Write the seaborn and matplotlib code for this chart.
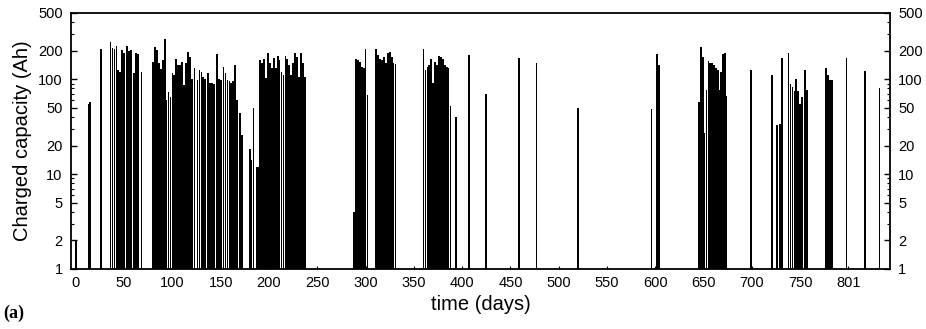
import matplotlib
matplotlib.use("Agg")
import matplotlib.pyplot as plt
import matplotlib.ticker as mticker
import seaborn as sns
import pandas as pd

# ---- data ----
days = [
    0, 13, 15, 26, 36, 38, 40, 42, 44, 46, 48, 50, 53, 55, 57, 60, 62, 64, 68,
    80, 82, 84, 86, 88, 90, 92, 94, 96, 98, 100, 102, 104, 106, 108, 110, 112,
    114, 116, 118, 120, 123, 126, 128, 130, 132, 134, 137, 139, 141, 143, 146,
    148, 150, 153, 155, 157, 159, 161, 163, 165, 167, 170, 172,
    180, 182, 184, 187, 189, 191, 193, 195, 197, 199, 201, 203, 205, 207, 209,
    211, 213, 215, 217, 219, 221, 223, 225, 227, 229, 231, 233, 235, 237,
    288, 290, 292, 294, 296, 298, 300, 302, 311, 313, 315, 317, 319, 321, 323,
    325, 327, 329, 331,
    360, 362, 364, 366, 368, 370, 372, 374, 376, 378, 380, 382, 384, 386, 388,
    394, 407, 425, 459, 477, 520,
    596, 602, 604,
    645, 647, 649, 650, 651, 653, 655, 657, 659, 661, 663, 665, 666, 668, 670,
    672, 673,
    699, 721, 726, 729, 731, 738, 740, 742, 744, 746, 748, 750, 752, 755, 757,
    777, 779, 781, 783, 798, 817, 832,
]
capacity = [
    2, 55, 58, 210, 245, 215, 207, 224, 125, 120, 205, 190, 224, 200, 205, 117,
    190, 185, 120,
    152, 220, 205, 150, 128, 160, 266, 60, 74, 65, 117, 110, 165, 142, 140, 152,
    87, 150, 195, 173, 100, 132, 98, 125, 120, 107, 100, 117, 91, 92, 90, 187,
    100, 98, 135, 117, 98, 97, 91, 95, 141, 60, 44, 26,
    18.5, 14, 50, 12, 12, 160, 150, 165, 102, 188, 150, 130, 168, 130, 175,
    160, 120, 110, 175, 165, 142, 110, 150, 188, 172, 105, 188, 150, 105,
    4, 165, 160, 152, 135, 132, 207, 68, 207, 180, 165, 160, 172, 150, 188,
    195, 172, 150, 145,
    207, 125, 135, 140, 165, 91, 152, 140, 176, 170, 165, 142, 135, 130, 52,
    40, 180, 70, 168, 148, 50,
    49, 185, 142,
    57, 220, 172, 125, 27, 77, 157, 150, 150, 140, 133, 125, 77, 120, 185,
    190, 67,
    125, 112, 33, 34, 168, 190, 90, 83, 75, 100, 75, 55, 65, 125, 77,
    130, 112, 98, 98, 168, 122, 80,
]
xtick_values = [0, 50, 100, 150, 200, 250, 300, 350, 400, 450, 500, 550, 600,
                650, 700, 750, 800]
xtick_labels = ["0", "50", "100", "150", "200", "250", "300", "350", "400",
                "450", "500", "550", "600", "650", "700", "750", "801"]
ytick_values = [1, 2, 5, 10, 20, 50, 100, 200, 500]
ytick_labels = ["1", "2", "5", "10", "20", "50", "100", "200", "500"]

df = pd.DataFrame({"day": days, "cap": capacity})

sns.set_style("ticks")
plt.rcParams["font.family"] = ["Liberation Sans", "DejaVu Sans"]
plt.rcParams["text.color"] = "black"
plt.rcParams["axes.labelcolor"] = "black"
plt.rcParams["xtick.color"] = "black"
plt.rcParams["ytick.color"] = "black"

fig = plt.figure(figsize=(9.26, 3.29), dpi=100)
ax = fig.add_axes([71 / 926, 1 - 269 / 329, (890 - 71) / 926, (269 - 13) / 329])

sns.barplot(data=df, x="day", y="cap", native_scale=True, color="black",
            width=1.8, errorbar=None, linewidth=0, saturation=1, ax=ax)

ax.set_yscale("log")
ax.set_ylim(1, 500)
ax.set_xlim(-5, 843)

ax.set_yticks(ytick_values)
ax.set_yticklabels(ytick_labels)
ax.yaxis.set_minor_locator(mticker.LogLocator(base=10, subs=range(2, 10)))
ax.yaxis.set_minor_formatter(mticker.NullFormatter())
ax.set_xticks(xtick_values)
ax.set_xticklabels(xtick_labels)

ax.tick_params(axis="y", which="both", direction="in", left=True, right=True,
               labelleft=True, labelright=True, labelsize=10.5, pad=6,
               colors="black")
ax.tick_params(axis="y", which="major", length=4, width=1)
ax.tick_params(axis="y", which="minor", length=2, width=0.8)
ax.tick_params(axis="x", which="both", direction="in", bottom=True, top=False,
               length=2, labelsize=10.5, pad=5, colors="black")

for s in ax.spines.values():
    s.set_visible(True)
    s.set_linewidth(1.3)
    s.set_color("black")

ax.set_xlabel("time (days)", fontsize=14.5, labelpad=4, color="black")
ax.set_ylabel("Charged capacity (Ah)", fontsize=14.5, labelpad=4, color="black")

fig.text(3 / 926, 1 - 313 / 329, "(a)", fontsize=13, va="center", ha="left",
         fontweight="bold", color="black",
         family=["Liberation Serif", "DejaVu Serif"])

fig.savefig("out.png", dpi=100)
